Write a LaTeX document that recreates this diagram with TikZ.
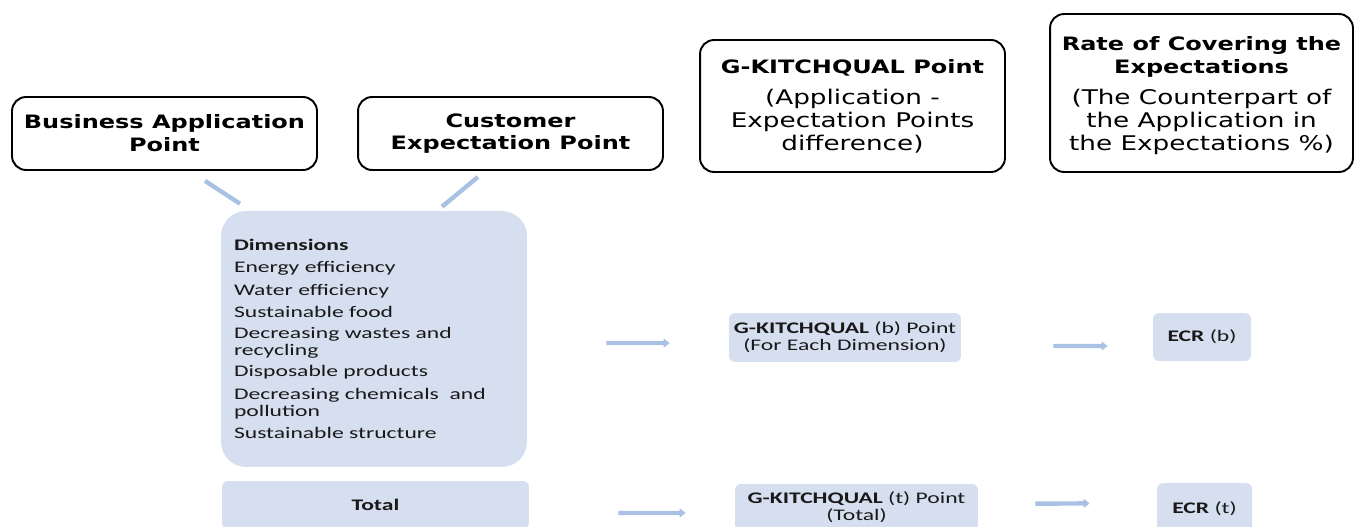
\documentclass[tikz,border=0pt]{standalone}
\usepackage{fontspec}
\usepackage{tikz}
\usetikzlibrary{arrows.meta,calc}
\newfontfamily\hdfont[FakeStretch=1.3]{DejaVu Sans}
\newfontfamily\lstfont[FakeStretch=1.46]{Carlito}
\definecolor{boxblue}{HTML}{D5DFEF}
\definecolor{arrowblue}{HTML}{A9C1E3}
\tikzstyle{headbox}=[draw=black,line width=1.1pt,rounded corners=8pt,inner sep=0pt,align=center,font=\hdfont\fontsize{11.5}{13}\selectfont]
\tikzstyle{bluebox}=[fill=boxblue,inner sep=0pt,align=center,text=black!90,rounded corners=0.12cm,font=\lstfont\fontsize{9.2}{9.7}\selectfont]
\tikzstyle{edge} = [draw,arrowblue,line width=2.5pt,-{Triangle[length=3.4pt,width=5pt]}]
\tikzstyle{link} = [draw,arrowblue,line width=2.5pt]
\newcommand{\headbf}[1]{{\bfseries\fontsize{10.5}{12.5}\selectfont #1}}

\begin{document}
\begin{tikzpicture}[x=0.02cm,y=-0.02cm]
    \useasboundingbox (0,0) rectangle (1359,527);

    % header boxes
    \node[headbox, minimum width=6.10cm, minimum height=1.46cm] (bap) at (164.5,133.5)
        {\headbf{Business Application}\\\headbf{Point}};
    \node[headbox, minimum width=6.10cm, minimum height=1.46cm] (cep) at (510.5,133.5)
        {\headbf{Customer}\\\headbf{Expectation Point}};
    \node[headbox, minimum width=6.10cm, minimum height=2.64cm] (gkp) at (852.5,106)
        {\headbf{G-KITCHQUAL Point}\\[5pt](Application -\\Expectation Points\\difference)};
    \node[headbox, minimum width=6.06cm, minimum height=3.16cm] (rce) at (1201.5,93)
        {\headbf{\rule{0pt}{11pt}Rate of Covering the}\\\headbf{Expectations}\\[5pt](The Counterpart of\\the Application in\\the Expectations \%)};

    % dimensions
    \node[bluebox, rounded corners=0.5cm, minimum width=6.12cm, minimum height=5.12cm,
          text width=5.6cm, align=left] (dim) at (374,339)
        {\textbf{Dimensions}\\[0.1cm]
         Energy efficiency\\[0.1cm]
         Water efficiency\\[0.1cm]
         Sustainable food\\[0.08cm]
         Decreasing wastes and\\recycling\\[0.08cm]
         Disposable products\\[0.12cm]
         Decreasing chemicals \ and\\pollution\\[0.1cm]
         Sustainable structure};

    \node[bluebox, minimum width=6.14cm, minimum height=0.96cm] (tot) at (375.5,505) {\textbf{Total}};

    % points and rates
    \node[bluebox, minimum width=4.64cm, minimum height=0.98cm] (gkb) at (845,337.5) {\textbf{G-KITCHQUAL} (b) Point\\(For Each Dimension)};
    \node[bluebox, minimum width=1.96cm, minimum height=0.96cm] (ecrb) at (1202,337) {\textbf{ECR} (b)};
    \node[bluebox, minimum width=4.86cm, minimum height=0.94cm] (gkt) at (856.5,507.5) {\textbf{G-KITCHQUAL} (t) Point\\(Total)};
    \node[bluebox, minimum width=1.90cm, minimum height=1.04cm] (ecrt) at (1204.5,509) {\textbf{ECR} (t)};

    % links into the dimensions box
    \path[link, shorten <=0.364cm, shorten >=0.254cm] ([xshift=0.506cm]bap.south) -- ([xshift=-2.468cm]dim.north);
    \path[link, shorten <=0.19cm, shorten >=0.125cm] ([xshift=-0.506cm]cep.south) -- ([xshift=1.264cm]dim.north);

    % flow arrows
    \path[edge, shorten <=1.58cm, shorten >=1.18cm] ([yshift=-0.08cm]dim.east) -- ([yshift=-0.11cm]gkb.west);
    \path[edge, shorten <=1.84cm, shorten >=0.9cm] ([yshift=-0.17cm]gkb.east) -- ([yshift=-0.18cm]ecrb.west);
    \path[edge, shorten <=1.78cm, shorten >=0.98cm] ([yshift=-0.16cm]tot.east) -- ([yshift=-0.11cm]gkt.west);
    \path[edge, shorten <=1.14cm, shorten >=1.34cm] ([yshift=0.07cm]gkt.east) -- ([yshift=0.12cm]ecrt.west);

\end{tikzpicture}
\end{document}
